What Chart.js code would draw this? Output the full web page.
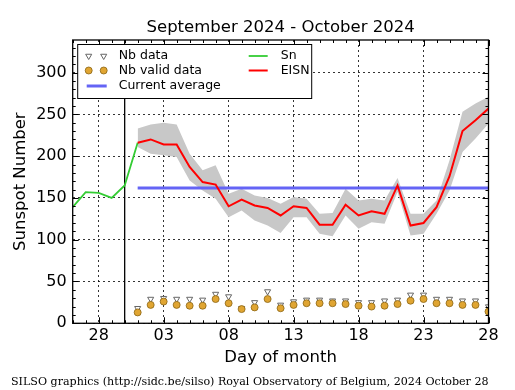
<!DOCTYPE html>
<html><head><meta charset="utf-8">
<script src="https://cdn.jsdelivr.net/npm/chart.js@4/dist/chart.umd.min.js"></script>
<style>html,body{margin:0;padding:0;background:#fff;}</style>
</head><body>
<canvas id="c" width="515" height="390"></canvas>
<script>
const titleText = 'September 2024 - October 2024';
const footerText = 'SILSO graphics (http://sidc.be/silso) Royal Observatory of Belgium, 2024 October 28';
const xAxisTitle = 'Day of month';
const yAxisTitle = 'Sunspot Number';

// x positions are days counted from 2024-09-26 (Sep 26 = 0, Oct 1 = 5)
const xTickDays = [2, 7, 12, 17, 22, 27, 32];
const xTickLabels = ['28', '03', '08', '13', '18', '23', '28'];
const yTickValues = [0, 50, 100, 150, 200, 250, 300];
const xMin = 0, xMax = 32, yMin = 0, yMax = 339;

// Previous month Sn (Sep 26 .. Sep 30, joined to Oct 1)
const snDays = [0, 1, 2, 3, 4, 5];
const snValues = [139, 157, 156, 150, 165, 216];

// Current month: October 1..28
const octDays = [1,2,3,4,5,6,7,8,9,10,11,12,13,14,15,16,17,18,19,20,21,22,23,24,25,26,27,28];
const octOffset = 4; // x = day of October + 4
const eisnValues  = [216,220,214,214,187,169,166,140,148,141,138,129,140,138,118,118,142,129,134,131,165,117,120,139,176,230,243,257];
const eisnUpper   = [233,238,240,238,203,183,189,155,161,153,150,143,151,149,131,132,161,147,149,147,174,131,131,147,195,253,263,271];
const eisnLower   = [211,203,201,199,171,159,149,127,135,123,117,108,127,127,107,104,129,113,121,119,157,105,107,131,159,205,221,239];
const nbData      = [18,29,30,29,29,28,35,32,18,25,38,22,26,28,28,27,27,25,25,27,28,34,34,29,29,27,27,20];
const nbValidData = [13,22,26,22,21,21,29,24,17,19,29,18,22,24,24,24,23,21,20,21,23,27,29,24,24,22,22,14];

const currentAverage = 162;
const averageFrom = 1, averageTo = 28;   // October days
const monthStartDay = 4;                 // vertical separator (Sep 30)

const octX = octDays.map(d => d + octOffset);
const pts = (xs, ys) => xs.map((x, i) => ({x, y: ys[i]}));

const FONT = 'DejaVu Sans';

const decor = {
  id: 'decor',
  afterDraw(chart) {
    const {ctx, chartArea: {left, right, top, bottom}, scales: {x, y}} = chart;
    ctx.save();
    ctx.strokeStyle = '#000';
    ctx.lineWidth = 1;
    const seg = (x1, y1, x2, y2) => { ctx.beginPath(); ctx.moveTo(x1, y1); ctx.lineTo(x2, y2); ctx.stroke(); };
    for (let d = xMin; d <= xMax; d++) {
      const px = Math.round(x.getPixelForValue(d)) + 0.5;
      const len = xTickDays.includes(d) ? 6 : 3;
      seg(px, bottom, px, bottom - len);
      seg(px, top, px, top + len);
    }
    for (let v = yMin; v <= yMax; v += 10) {
      const py = Math.round(y.getPixelForValue(v)) + 0.5;
      const len = (v % 50 === 0) ? 6 : 3;
      seg(left, py, left + len, py);
      seg(right, py, right - len, py);
    }
    ctx.lineWidth = 1.3;
    ctx.strokeRect(left, top, right - left, bottom - top);

    // legend box
    const lx = left + 5, ly = top + 4.5, lw = 234, lh = 54;
    ctx.fillStyle = '#fff';
    ctx.fillRect(lx, ly, lw, lh);
    ctx.lineWidth = 1;
    ctx.strokeRect(lx, ly, lw, lh);
    const r1 = ly + 11.5, r2 = ly + 26, r3 = ly + 41.5;
    const m1 = lx + 11, m2 = lx + 26, tx = lx + 41;
    [m1, m2].forEach(mx => {
      ctx.fillStyle = '#fff'; ctx.strokeStyle = '#666'; ctx.lineWidth = 1;
      Chart.helpers.drawPoint(ctx, {pointStyle: 'triangle', radius: 3.5, rotation: 180, borderWidth: 1}, mx, r1);
      ctx.fillStyle = '#e0a532'; ctx.strokeStyle = '#8a6414'; ctx.lineWidth = 0.8;
      Chart.helpers.drawPoint(ctx, {pointStyle: 'circle', radius: 3.5, rotation: 0, borderWidth: 0.8}, mx, r2);
    });
    ctx.lineWidth = 3; ctx.strokeStyle = '#6464f5';
    seg(lx + 9, r3, lx + 29, r3);
    ctx.lineWidth = 1.8; ctx.strokeStyle = '#33cc33';
    seg(lx + 171, r1, lx + 190, r1);
    ctx.lineWidth = 2; ctx.strokeStyle = '#ff0000';
    seg(lx + 171, r2, lx + 190, r2);
    ctx.fillStyle = '#000';
    ctx.font = '12.5px "' + FONT + '"';
    ctx.textBaseline = 'middle';
    ctx.textAlign = 'left';
    ctx.fillText('Nb data', tx, r1);
    ctx.fillText('Nb valid data', tx, r2);
    ctx.fillText('Current average', tx, r3);
    ctx.fillText('Sn', lx + 203, r1);
    ctx.fillText('EISN', lx + 203, r2);
    ctx.restore();
  }
};

const lineDs = (data, color, width, order) => ({
  data, borderColor: color, borderWidth: width, pointRadius: 0, fill: false,
  tension: 0, order, showLine: true
});

new Chart(document.getElementById('c'), {
  type: 'line',
  data: {
    datasets: [
      {data: pts(octX, nbValidData), showLine: false, pointStyle: 'circle', pointRadius: 3.5,
       backgroundColor: '#e0a532', borderColor: '#8a6414', borderWidth: 0.8, order: 0, clip: 0},
      {data: pts(octX, nbData), showLine: false, pointStyle: 'triangle', rotation: 180, pointRadius: 3.5,
       backgroundColor: '#ffffff', borderColor: '#666666', borderWidth: 1, order: 1, clip: 0},
      lineDs(pts(octX, eisnValues), '#ff0000', 2, 2),
      lineDs(pts(snDays, snValues), '#33cc33', 1.8, 3),
      lineDs([{x: monthStartDay, y: yMin}, {x: monthStartDay, y: yMax}], '#000000', 1.3, 4),
      lineDs([{x: averageFrom + octOffset, y: currentAverage}, {x: averageTo + octOffset, y: currentAverage}], '#6464f5', 3, 5),
      {data: pts(octX, eisnUpper), borderWidth: 0, pointRadius: 0, fill: '+1', backgroundColor: '#c8c8c8', order: 6, tension: 0},
      {data: pts(octX, eisnLower), borderWidth: 0, pointRadius: 0, fill: false, order: 7, tension: 0}
    ]
  },
  options: {
    responsive: false, animation: false, devicePixelRatio: 1,
    events: [],
    layout: {padding: {left: 11, right: 26.5, top: 0, bottom: 0}},
    plugins: {
      legend: {display: false},
      tooltip: {enabled: false},
      title: {display: true, text: titleText, fullSize: false, color: '#000',
        font: {family: FONT, size: 16.5, weight: 'normal'}, padding: {top: 17.6, bottom: 2.6}},
      subtitle: {display: true, text: footerText, position: 'bottom', align: 'start', color: '#000',
        font: {family: 'DejaVu Serif', size: 11.1, weight: 'normal'}, padding: {top: 0, bottom: 1.6}}
    },
    scales: {
      x: {
        type: 'linear', min: xMin, max: xMax,
        afterBuildTicks: s => { s.ticks = xTickDays.map(v => ({value: v})); },
        afterFit: s => { s.height = 51.8; },
        ticks: {callback: v => xTickLabels[xTickDays.indexOf(v)], color: '#000',
          font: {family: FONT, size: 16}, padding: 3, maxRotation: 0, autoSkip: false},
        grid: {color: '#000', lineWidth: 0.8, drawTicks: false},
        border: {display: false, dash: [2, 3]},
        title: {display: true, text: xAxisTitle, color: '#000', font: {family: FONT, size: 16.5},
          padding: {top: 0, bottom: 7.7}}
      },
      y: {
        min: yMin, max: yMax,
        afterBuildTicks: s => { s.ticks = yTickValues.map(v => ({value: v})); },
        afterFit: s => { s.width = 61.7; },
        ticks: {color: '#000', font: {family: FONT, size: 16}, padding: 6},
        grid: {color: '#000', lineWidth: 0.8, drawTicks: false},
        border: {display: false, dash: [2, 3]},
        title: {display: true, text: yAxisTitle, color: '#000', font: {family: FONT, size: 16.5},
          padding: {top: 0, bottom: 0}}
      }
    }
  },
  plugins: [decor]
});
</script>
</body></html>
